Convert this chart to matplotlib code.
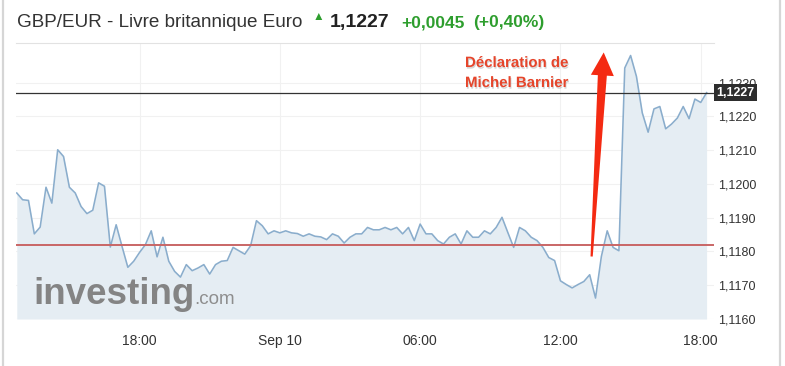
import numpy as np
import pandas as pd
import matplotlib
matplotlib.use('Agg')
import matplotlib.pyplot as plt
import matplotlib.dates as mdates
import matplotlib.patheffects as pe
from matplotlib.lines import Line2D
from matplotlib.patches import Polygon
from matplotlib.transforms import IdentityTransform, blended_transform_factory

plt.rcParams['font.family'] = ['Liberation Sans', 'DejaVu Sans']

# GBP/EUR quotes, one every 15 minutes from Sep 9 12:45 to Sep 10 18:15
rates = [
    1.11973, 1.11953, 1.11951, 1.11852, 1.11872, 1.11990, 1.11943, 1.12101,
    1.12081, 1.11990, 1.11973, 1.11933, 1.11912, 1.11922, 1.12003, 1.11993,
    1.11813, 1.11879, 1.11815, 1.11753, 1.11771, 1.11797, 1.11820, 1.11861,
    1.11784, 1.11842, 1.11771, 1.11741, 1.11724, 1.11761, 1.11743, 1.11751,
    1.11761, 1.11733, 1.11761, 1.11771, 1.11773, 1.11812, 1.11802, 1.11792,
    1.11817, 1.11891, 1.11876, 1.11852, 1.11861, 1.11855, 1.11861, 1.11855,
    1.11853, 1.11845, 1.11852, 1.11845, 1.11843, 1.11835, 1.11852, 1.11845,
    1.11825, 1.11842, 1.11852, 1.11852, 1.11871, 1.11864, 1.11864, 1.11871,
    1.11864, 1.11871, 1.11852, 1.11871, 1.11832, 1.11881, 1.11852, 1.11852,
    1.11832, 1.11822, 1.11842, 1.11852, 1.11822, 1.11861, 1.11842, 1.11842,
    1.11861, 1.11852, 1.11871, 1.11901, 1.11856, 1.11812, 1.11871, 1.11861,
    1.11842, 1.11832, 1.11812, 1.11782, 1.11773, 1.11713, 1.11702, 1.11692,
    1.11702, 1.11711, 1.11731, 1.11662, 1.11785, 1.11861, 1.11812, 1.11802,
    1.12343, 1.12380, 1.12318, 1.12210, 1.12153, 1.12222, 1.12229, 1.12163,
    1.12177, 1.12195, 1.12229, 1.12193, 1.12251, 1.12241, 1.12270,
]
times = pd.date_range('2018-09-09 12:45', periods=len(rates), freq='15min')

last_rate = 1.1227
prev_close = 1.1182
change = '+0,0045'
change_pct = '(+0,40%)'
title = 'GBP/EUR - Livre britannique Euro'

y_ticks = [1.1160, 1.1170, 1.1180, 1.1190, 1.1200, 1.1210, 1.1220, 1.1230]
x_ticks = pd.to_datetime(['2018-09-09 18:00', '2018-09-10 00:00', '2018-09-10 06:00',
                          '2018-09-10 12:00', '2018-09-10 18:00'])
x_labels = ['18:00', 'Sep 10', '06:00', '12:00', '18:00']

note_lines = ['Déclaration de', 'Michel Barnier']
arrow_tail = (pd.Timestamp('2018-09-10 13:20'), 1.11785)
arrow_tip = (pd.Timestamp('2018-09-10 13:51'), 1.12389)


def fmt(v):
    return f'{v:.4f}'.replace('.', ',')


W, H = 785, 366
fig = plt.figure(figsize=(W / 100, H / 100), dpi=100)
ax = fig.add_axes([16 / W, 47 / H, 698 / W, 276 / H])

y_min, y_max = 1.1160, 1.12417
ax.fill_between(times, rates, y_min, color='#e5edf3', lw=0, zorder=1)
ax.plot(times, rates, color='#8aadcc', lw=1.15, zorder=2)
ax.axhline(prev_close, color='#c96666', lw=1.4, zorder=3)
ax.axhline(last_rate, color='#333333', lw=0.9, zorder=3)

ax.set_ylim(y_min, y_max)
ax.set_xlim(times[0] - pd.Timedelta(minutes=2), times[-1] + pd.Timedelta(minutes=19))

ax.yaxis.tick_right()
ax.set_yticks(y_ticks)
ax.set_yticklabels([fmt(v) for v in y_ticks])
ax.set_xticks(x_ticks)
ax.set_xticklabels(x_labels)
ax.tick_params(axis='y', length=0, pad=3, labelsize=9, labelcolor='#333333')
ax.tick_params(axis='x', length=0, pad=11, labelsize=10, labelcolor='#333333')
ax.grid(True, color='#f1f1f1', lw=0.8)
ax.set_axisbelow(True)
for side in ['left', 'right', 'bottom']:
    ax.spines[side].set_visible(False)
ax.spines['top'].set_color('#e2e2e2')

# current value tag on the right axis
tag_tr = blended_transform_factory(ax.transAxes, ax.transData)
ax.text(1.0033, last_rate, fmt(last_rate), transform=tag_tr, ha='left', va='center',
        color='white', fontsize=9, fontweight='bold', clip_on=False, zorder=6,
        bbox=dict(boxstyle='square,pad=0.22', fc='#2d2d2d', ec='none'))

# header
fig.text(17 / W, 1 - 27 / H, title, fontsize=13.6, color='#333333', va='baseline')
fig.text(318 / W, 1 - 20 / H, '▲', fontsize=8.5, color='#2e9e2e', ha='center', va='baseline')
fig.text(330 / W, 1 - 27 / H, fmt(last_rate), fontsize=14, fontweight='bold',
         color='#222222', va='baseline')
fig.text(401 / W, 1 - 27 / H, change, fontsize=12.5, fontweight='bold',
         color='#2e9e2e', va='baseline')
fig.text(473 / W, 1 - 27 / H, change_pct, fontsize=12.5, fontweight='bold',
         color='#2e9e2e', va='baseline')

# watermark: ".com" follows right after "investing"
brand = fig.text(33 / W, 1 - 304 / H, 'investing', fontsize=26.5, fontweight='bold',
                 color='#848484', va='baseline')
fig.canvas.draw()
bx = brand.get_window_extent().x1
fig.text(bx / W, 1 - 304 / H, '.com', fontsize=13.5, color='#8e8e8e', va='baseline')

# annotation
shadow = [pe.withSimplePatchShadow(offset=(0.6, -1.2), shadow_rgbFace='#888888', alpha=0.35)]
for i, line in enumerate(note_lines):
    fig.text(465 / W, 1 - (67 + 20 * i) / H, line, fontsize=10.8, fontweight='bold',
             color='#e6452b', va='baseline', path_effects=shadow)

# tapered red arrow, built in pixel space from data anchors
p0 = ax.transData.transform((mdates.date2num(arrow_tail[0]), arrow_tail[1]))
p1 = ax.transData.transform((mdates.date2num(arrow_tip[0]), arrow_tip[1]))
d = (p1 - p0) / np.hypot(*(p1 - p0))
n = np.array([-d[1], d[0]])
neck = p1 - d * 23
pts = [p0 + n * 1.1, neck + n * 4.5, neck + n * 11.5, p1,
       neck - n * 11.5, neck - n * 4.5, p0 - n * 1.1]
fig.add_artist(Polygon(pts, closed=True, transform=IdentityTransform(),
                       fc='#f42a12', ec='none', zorder=10))

# widget frame
for xf in [3 / W, 780 / W]:
    fig.add_artist(Line2D([xf, xf], [0, 1], transform=fig.transFigure,
                          color='#d6d6d6', lw=1.6))

fig.savefig('out.png', dpi=100, facecolor='white')
